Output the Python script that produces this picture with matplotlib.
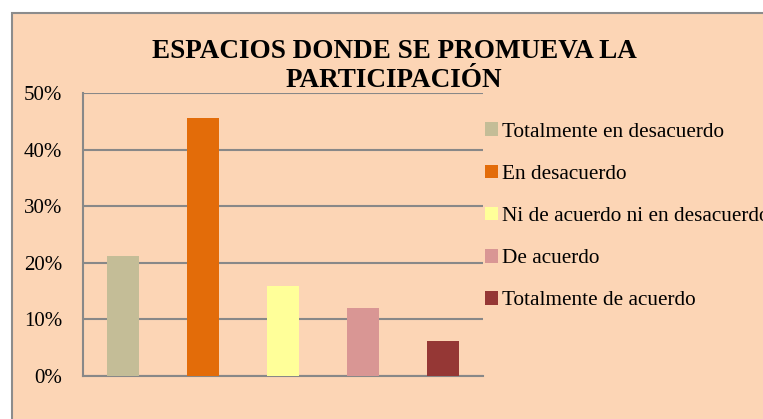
import matplotlib
matplotlib.use("Agg")
import matplotlib.pyplot as plt
from matplotlib.patches import Rectangle, Patch
from matplotlib.ticker import PercentFormatter

# ── Data ──────────────────────────────────────────────────────────────────────
categories = ["Totalmente en desacuerdo", "En desacuerdo",
              "Ni de acuerdo ni en desacuerdo", "De acuerdo",
              "Totalmente de acuerdo"]
values = [21.2, 45.5, 15.9, 12.1, 6.1]
colors = ["#C4BD97", "#E36C09", "#FFFF99", "#D99694", "#953735"]

title = "ESPACIOS DONDE SE PROMUEVA LA\nPARTICIPACIÓN"

BG = "#FCD5B5"
GRID = "#888888"
W, H = 763, 419

plt.rcParams["font.family"] = ["Liberation Serif", "DejaVu Serif"]

fig = plt.figure(figsize=(W / 100, H / 100), dpi=100, facecolor="white")

# outer chart area (runs past right and bottom edge)
fig.patches.append(Rectangle((12 / W, -0.1), 1.2, (H - 13) / H + 0.1,
                             transform=fig.transFigure, facecolor=BG,
                             edgecolor="#8C8C8C", linewidth=1.5, zorder=-1))

ax = fig.add_axes([83 / W, (H - 376) / H, 400 / W, (376 - 93) / H])
ax.set_zorder(1)
ax.patch.set_alpha(0)

x = range(len(values))
ax.bar(x, values, width=0.4, color=colors, zorder=3)

ax.set_xlim(-0.5, len(values) - 0.5)
ax.set_ylim(0, 50)
ax.set_yticks(range(0, 51, 10))
ax.yaxis.set_major_formatter(PercentFormatter(decimals=0))
ax.set_xticks([])
ax.tick_params(axis="y", length=0, pad=15, labelsize=15)
ax.grid(axis="y", color=GRID, linewidth=1.5, zorder=1)
for s in ["top", "right"]:
    ax.spines[s].set_visible(False)
for s in ["left", "bottom"]:
    ax.spines[s].set_color(GRID)
    ax.spines[s].set_linewidth(1.5)

fig.text(394 / W, 1 - 66 / H, title, ha="center", va="center",
         fontsize=19.5, fontweight="bold", linespacing=1.25, zorder=5)

handles = [Patch(facecolor=c, edgecolor="none") for c in colors]
fig.legend(handles, categories, loc="upper left",
           bbox_to_anchor=(477 / W, 1 - 114 / H), frameon=False,
           fontsize=15.3, handlelength=0.6, handleheight=0.6,
           handletextpad=0.2, labelspacing=1.08, borderaxespad=0)

fig.savefig("out.png", dpi=100, facecolor="white")
